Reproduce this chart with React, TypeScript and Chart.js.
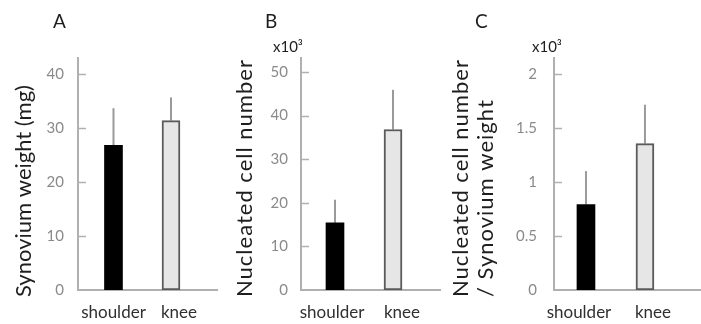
import React, { useEffect, useRef } from 'react';
import { Chart, registerables } from 'chart.js';

Chart.register(...registerables);

// ---- data ----
const categories = ['shoulder', 'knee'];
const weightMeans = [26.8, 31.4];
const weightErrors = [6.9, 4.3];
const cellMeans = [15.4, 36.8];
const cellErrors = [5.3, 9.1];
const ratioMeans = [0.79, 1.355];
const ratioErrors = [0.31, 0.36];
const weightTicks = [0, 10, 20, 30, 40];
const cellTicks = [0, 10, 20, 30, 40, 50];
const ratioTicks = [0, 0.5, 1, 1.5, 2];
const panelLetters = ['A', 'B', 'C'];
const weightTitle = ['Synovium weight (mg)'];
const cellTitle = ['Nucleated cell number'];
const ratioTitle = ['Nucleated cell number', '/ Synovium weight'];
const scaleNote = 'x10³';

const FONT = 'Lato, "Open Sans", "DejaVu Sans", sans-serif';
const AXIS_COLOR = '#b0b0b0';

type PanelSpec = {
  letter: string;
  means: number[];
  errors: number[];
  ticks: number[];
  title: string[];
  note: string | null;
  canvasLeft: number;
  width: number;
  areaLeft: number;
  padRight: number;
  yMax: number;
  tickPad: number;
  xMin: number;
  xMax: number;
  letterX: number;
  noteX: number;
  titleX: number[];
  titleSpacing: string;
  labelOffsets: number[];
};

const panels: PanelSpec[] = [
  {
    letter: panelLetters[0], means: weightMeans, errors: weightErrors, ticks: weightTicks,
    title: weightTitle, note: null, canvasLeft: 0, width: 232, areaLeft: 78, padRight: 15,
    yMax: 43, tickPad: 14, xMin: -0.617, xMax: 1.8, letterX: 53, noteX: 0,
    titleX: [31], titleSpacing: '0px', labelOffsets: [0, 8],
  },
  {
    letter: panelLetters[1], means: cellMeans, errors: cellErrors, ticks: cellTicks,
    title: cellTitle, note: scaleNote, canvasLeft: 232, width: 220, areaLeft: 69, padRight: 12,
    yMax: 53.2, tickPad: 13, xMin: -0.586, xMax: 1.81, letterX: 33, noteX: 41,
    titleX: [20], titleSpacing: '1px', labelOffsets: [-3, 9],
  },
  {
    letter: panelLetters[2], means: ratioMeans, errors: ratioErrors, ticks: ratioTicks,
    title: ratioTitle, note: scaleNote, canvasLeft: 452, width: 249, areaLeft: 102, padRight: 0,
    yMax: 2.147, tickPad: 17, xMin: -0.542, xMax: 1.95, letterX: 23, noteX: 80,
    titleX: [16, 41], titleSpacing: '1px', labelOffsets: [-7, 8],
  },
];

const decorPlugin = {
  id: 'panelDecor',
  beforeDatasetsDraw(chart: any, _args: any, opts: any) {
    const spec: PanelSpec = opts.spec;
    const ctx = chart.ctx;
    const y = chart.scales.y;
    const meta = chart.getDatasetMeta(0);
    ctx.save();
    ctx.strokeStyle = '#9a9a9a';
    ctx.lineWidth = 2;
    meta.data.forEach((el: any, i: number) => {
      const top = y.getPixelForValue(spec.means[i] + spec.errors[i]);
      ctx.beginPath();
      ctx.moveTo(el.x, el.y);
      ctx.lineTo(el.x, top);
      ctx.stroke();
    });
    ctx.restore();
  },
  afterDraw(chart: any, _args: any, opts: any) {
    const spec: PanelSpec = opts.spec;
    const ctx = chart.ctx;
    const area = chart.chartArea;
    const y = chart.scales.y;
    const x = chart.scales.x;
    ctx.save();
    // inward tick marks
    ctx.strokeStyle = AXIS_COLOR;
    ctx.lineWidth = 1.5;
    spec.ticks.forEach((v) => {
      if (v === 0) return;
      const py = Math.round(y.getPixelForValue(v)) + 0.5;
      ctx.beginPath();
      ctx.moveTo(area.left, py);
      ctx.lineTo(area.left + 8, py);
      ctx.stroke();
    });
    // panel letter
    ctx.fillStyle = '#1e1e1e';
    ctx.font = `19px ${FONT}`;
    ctx.textAlign = 'left';
    ctx.textBaseline = 'alphabetic';
    ctx.fillText(spec.letter, spec.letterX, 28);
    // scale note
    if (spec.note) {
      ctx.font = `15px ${FONT}`;
      ctx.fillText(spec.note, spec.noteX, 52);
    }
    // axis title (rotated, anchored at the bottom)
    ctx.font = `22px ${FONT}`;
    spec.title.forEach((line, i) => {
      ctx.save();
      (ctx as any).letterSpacing = spec.titleSpacing;
      ctx.translate(spec.titleX[i], 297);
      ctx.rotate(-Math.PI / 2);
      ctx.textAlign = 'left';
      ctx.textBaseline = 'alphabetic';
      ctx.fillText(line, 0, 0);
      ctx.restore();
    });
    // category labels
    ctx.font = `17px ${FONT}`;
    ctx.fillStyle = '#303030';
    ctx.textAlign = 'center';
    categories.forEach((c, i) => {
      ctx.fillText(c, x.getPixelForValue(i) + spec.labelOffsets[i], 318);
    });
    ctx.restore();
  },
};

function Panel({ spec }: { spec: PanelSpec }) {
  const ref = useRef<HTMLCanvasElement | null>(null);
  useEffect(() => {
    if (!ref.current) return;
    const chart = new Chart(ref.current, {
      type: 'bar',
      data: {
        datasets: [
          {
            data: spec.means.map((v, i) => ({ x: i, y: v })),
            backgroundColor: ['#000000', '#e6e6e6'],
            borderColor: ['#000000', '#5a5a5a'],
            borderWidth: [0, 2],
            borderSkipped: false,
            barThickness: 18,
          } as any,
        ],
      },
      options: {
        responsive: false,
        maintainAspectRatio: false,
        animation: false,
        devicePixelRatio: 1,
        events: [],
        layout: { padding: { top: 58, right: spec.padRight, left: 0, bottom: 0 } },
        plugins: {
          legend: { display: false },
          tooltip: { enabled: false },
          panelDecor: { spec },
        } as any,
        scales: {
          x: {
            type: 'linear',
            min: spec.xMin,
            max: spec.xMax,
            offset: false,
            grid: { display: false, drawTicks: false },
            ticks: { display: false },
            border: { display: true, color: AXIS_COLOR, width: 2 },
            afterFit: (s: any) => { s.height = 34; },
          },
          y: {
            type: 'linear',
            min: 0,
            max: spec.yMax,
            grid: { display: false, drawTicks: false },
            border: { display: true, color: AXIS_COLOR, width: 2 },
            ticks: {
              color: '#8a8a8a',
              font: { family: FONT, size: 15 },
              padding: spec.tickPad,
              callback: (v: any) => String(v),
            },
            afterBuildTicks: (s: any) => { s.ticks = spec.ticks.map((v) => ({ value: v })); },
            afterFit: (s: any) => { s.width = spec.areaLeft; },
          },
        },
      } as any,
      plugins: [decorPlugin],
    });
    return () => chart.destroy();
  }, [spec]);
  return (
    <canvas
      ref={ref}
      width={spec.width}
      height={324}
      style={{ position: 'absolute', left: spec.canvasLeft, top: 0, width: spec.width, height: 324 }}
    />
  );
}

export default function App() {
  return (
    <div style={{ position: 'absolute', left: 0, top: 0, width: 701, height: 324, background: '#ffffff', overflow: 'hidden' }}>
      {panels.map((p) => (
        <Panel key={p.letter} spec={p} />
      ))}
    </div>
  );
}
